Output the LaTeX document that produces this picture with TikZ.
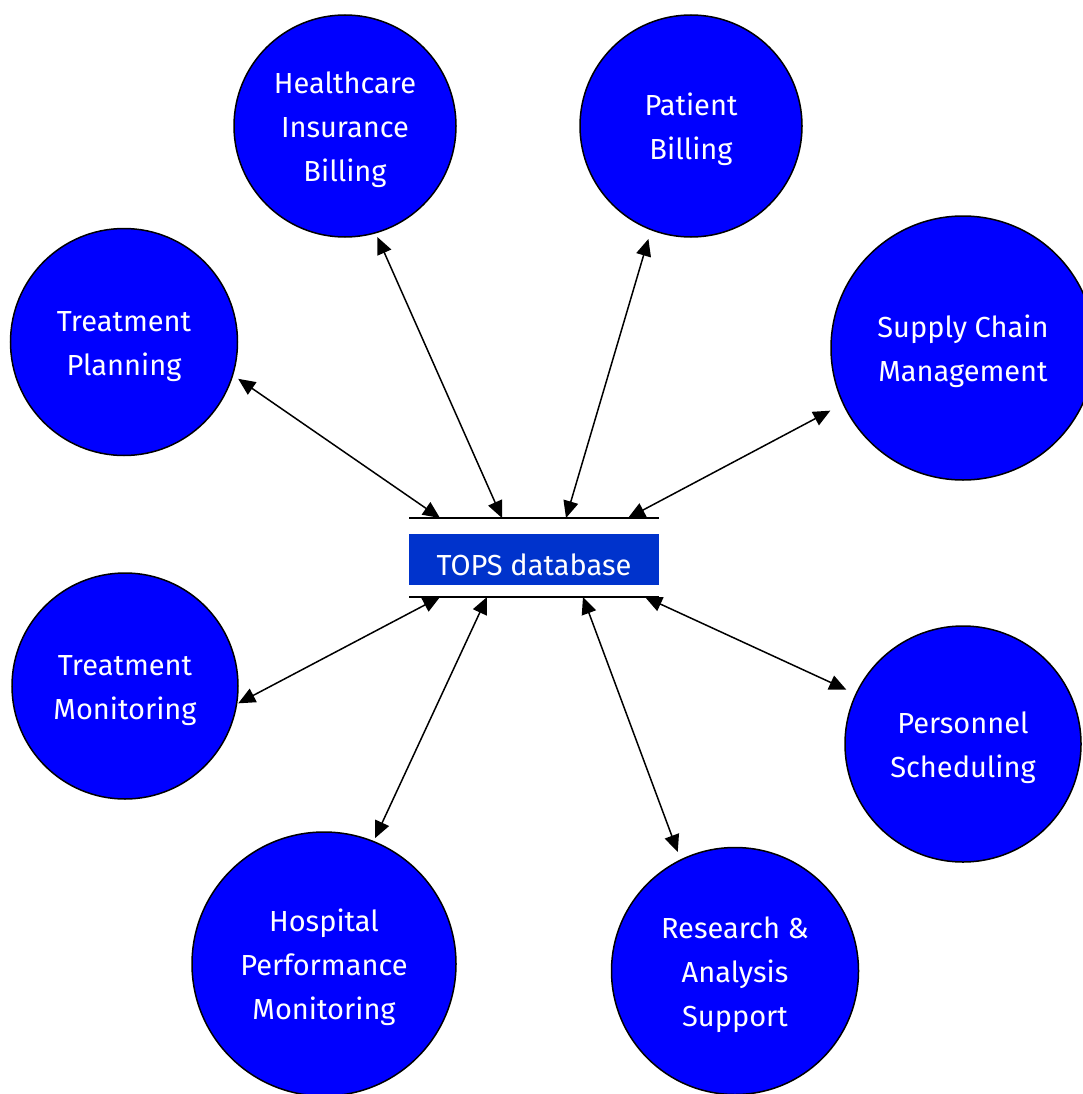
\documentclass[tikz,border=0pt]{standalone}
\usepackage{fontspec}
\setmainfont{Fira Sans}
\usetikzlibrary{arrows.meta}
\definecolor{procblue}{RGB}{0,0,255}
\definecolor{storeblue}{RGB}{0,51,204}
% lower a label without changing the size of its box
\newcommand{\droplabel}[2]{\raisebox{-#1}[\height][\depth]{#2}}
\begin{document}
\begin{tikzpicture}[x=1pt,y=-1pt,
  proc/.style={circle, draw=black, line width=1.5pt, fill=procblue, inner sep=0pt,
    text=white, align=center, font=\fontsize{29}{44}\selectfont},
  store/.style={rectangle, fill=storeblue, inner sep=0pt, minimum width=250pt,
    minimum height=51pt, text=white, font=\fontsize{29}{33}\selectfont},
  flow/.style={line width=1.5pt, {Triangle[length=17pt,width=15pt]}-{Triangle[length=17pt,width=15pt]}},
  rule/.style={line width=1.6pt}]
\useasboundingbox (0,0) rectangle (1083,1094);

% processes around the data store
\node[proc, minimum size=222pt] (hib) at (345,126) {\droplabel{3pt}{\begin{tabular}{c}Healthcare\\Insurance\\Billing\end{tabular}}};
\node[proc, minimum size=222pt] (pb)  at (691,126) {\droplabel{3pt}{\begin{tabular}{c}Patient\\Billing\end{tabular}}};
\node[proc, minimum size=227pt] (tp)  at (124,342) {\droplabel{3pt}{\begin{tabular}{c}Treatment\\Planning\end{tabular}}};
\node[proc, minimum size=264pt] (scm) at (963,348) {\droplabel{3pt}{\begin{tabular}{c}Supply Chain\\Management\end{tabular}}};
\node[proc, minimum size=226pt] (tm)  at (125,686) {\droplabel{3pt}{\begin{tabular}{c}Treatment\\Monitoring\end{tabular}}};
\node[proc, minimum size=236pt] (ps)  at (963,744) {\droplabel{3pt}{\begin{tabular}{c}Personnel\\Scheduling\end{tabular}}};
\node[proc, minimum size=264pt] (hpm) at (324,964) {\droplabel{3pt}{\begin{tabular}{c}Hospital\\Performance\\Monitoring\end{tabular}}};
\node[proc, minimum size=247pt] (ras) at (735,971) {\droplabel{3pt}{\begin{tabular}{c}Research \&\\Analysis\\Support\end{tabular}}};

% data store: two rules with the labelled bar between them
\node[store] (db) at (534,559.5) {\droplabel{5pt}{TOPS database}};
\coordinate (dbtl) at (409,518);
\coordinate (dbtr) at (659,518);
\coordinate (dbbl) at (409,597);
\coordinate (dbbr) at (659,597);
\draw[rule] (dbtl) -- (dbtr);
\draw[rule] (dbbl) -- (dbbr);

% connection points on the rules
\coordinate (t1) at (440,518);
\coordinate (t2) at (502,518);
\coordinate (t3) at (566,518);
\coordinate (t4) at (628,518);
\coordinate (b1) at (440,597);
\coordinate (b2) at (487,597);
\coordinate (b3) at (583,597);
\coordinate (b4) at (645,597);

% data flows
\draw[flow, shorten <=6pt] (tp.-17.8) -- (t1);
\draw[flow, shorten <=4pt] (hib.-74.1) -- (t2);
\draw[flow, shorten <=9pt] (pb.-111.9) -- (t3);
\draw[flow, shorten <=14pt] (scm.-155) -- (t4);
\draw[flow, shorten <=1pt] (tm.-9.5) -- (b1);
\draw[flow, shorten <=3pt] (hpm.68.7) -- (b2);
\draw[flow, shorten <=8pt] (ras.116.2) -- (b3);
\draw[flow, shorten <=10pt] (ps.155.2) -- (b4);
\end{tikzpicture}
\end{document}
